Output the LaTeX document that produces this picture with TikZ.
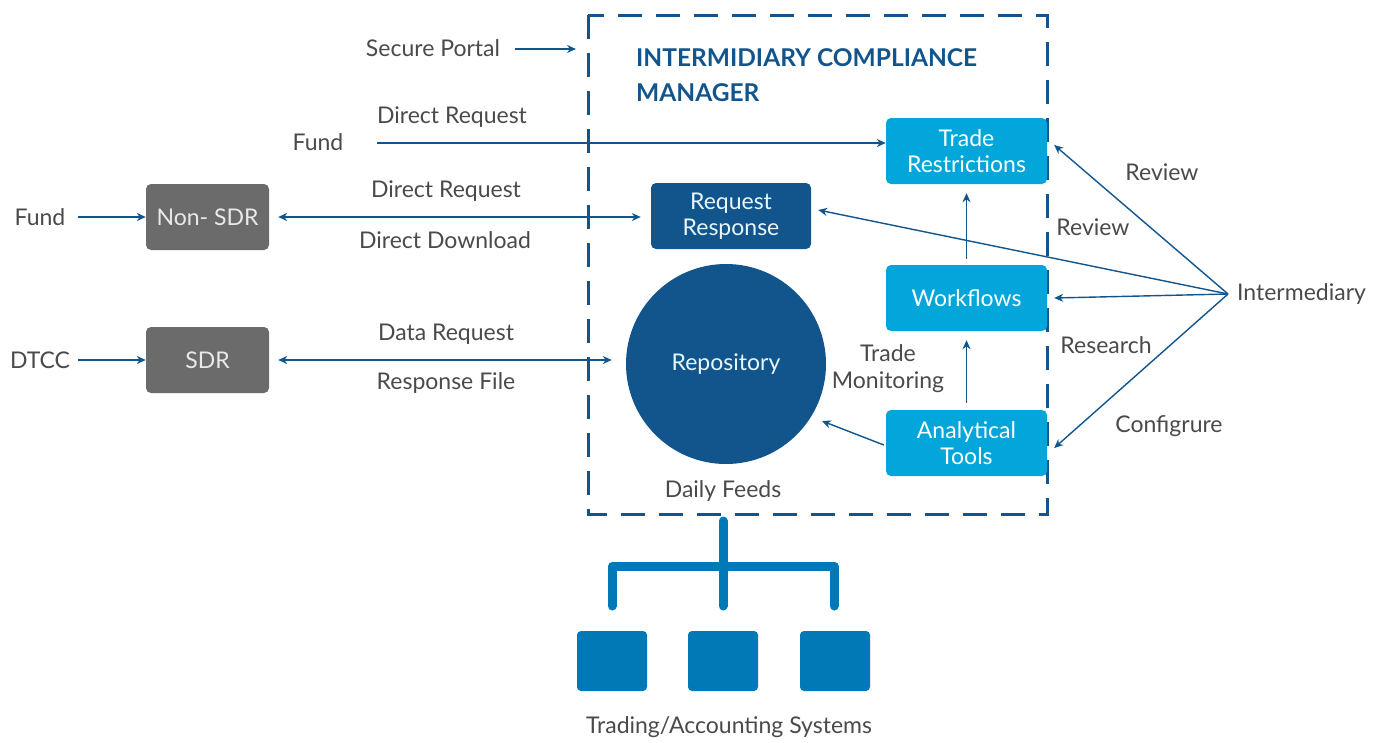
\documentclass[tikz,border=0pt]{standalone}
\usepackage{fontspec}
\setmainfont{Lato}
\usetikzlibrary{arrows.meta}
\definecolor{dblue}{HTML}{11558C}
\definecolor{lblue}{HTML}{02A6DB}
\definecolor{mblue}{HTML}{0079B6}
\definecolor{gbox}{HTML}{6B6B6B}
\definecolor{txt}{HTML}{4A4A4A}
\tikzset{
  lbl/.style={text=txt, font=\fontsize{23}{27}\selectfont, inner sep=0pt},
  boxlight/.style={fill=lblue, rounded corners=5pt, minimum width=161pt, minimum height=66pt, text=white, align=center, font=\fontsize{23}{26}\selectfont, inner sep=0pt},
  boxdark/.style={fill=dblue, rounded corners=5pt, minimum width=160pt, minimum height=66pt, text=white!90!lblue, align=center, font=\fontsize{23}{26}\selectfont, inner sep=0pt},
  boxgray/.style={fill=gbox, rounded corners=5pt, minimum width=123pt, minimum height=66pt, text=white!85!gbox, align=center, font=\fontsize{23}{26}\selectfont, inner sep=0pt},
  sq/.style={fill=mblue, rounded corners=4pt, minimum width=70pt, minimum height=60pt, inner sep=0pt},
  con/.style={draw=dblue, line width=1.4pt, -{Stealth[length=9pt,width=8pt]}},
  bicon/.style={draw=dblue, line width=1.4pt, {Stealth[length=9pt,width=8pt]}-{Stealth[length=9pt,width=8pt]}},
  tree/.style={draw=mblue, line width=9pt, line cap=round, line join=round}
}
\begin{document}
\begin{tikzpicture}[x=1pt,y=-1pt]
\useasboundingbox (0,0) rectangle (1387,742);
% dashed container
\draw[dblue, line width=3pt, dash pattern=on 24pt off 14pt] (588,15) rectangle (1047,514);
\node[anchor=west, text=dblue, font=\bfseries\fontsize{24.5}{35}\selectfont, align=left, inner sep=0pt] (title) at (636,75) {INTERMIDIARY COMPLIANCE\\MANAGER};
% boxes
\node[boxlight] (tr) at (966.5,151) {Trade\\Restrictions};
\node[boxdark] (rr) at (731,216) {Request\\Response};
\node[boxlight] (wf) at (966.5,298) {Workflows};
\node[boxlight] (at) at (966.5,443) {Analytical\\Tools};
\node[circle, fill=dblue, minimum size=200pt, inner sep=0pt, text=white!90!lblue, font=\fontsize{23}{26}\selectfont] (rep) at (726,364) {Repository};
\node[boxgray] (nsdr) at (207.5,217) {Non- SDR};
\node[boxgray] (sdr) at (207.5,360) {SDR};
% left labels
\node[lbl] (fund1) at (40,217) {Fund};
\node[lbl] (dtcc) at (40,360) {DTCC};
\node[lbl] (fund2) at (318,142) {Fund};
\node[lbl] (sp) at (433,48) {Secure Portal};
\coordinate (spa) at (515,49);
\coordinate (spb) at (576,49);
\coordinate (f2a) at (377,143);
\coordinate (inter) at (1228,294);
\node[lbl, anchor=west] (intl) at (1237,294) {Intermediary};
% connectors
\draw[con] (spa) -- (spb);
\draw[con] (78,217) -- (nsdr.west);
\draw[con] (78,360) -- (sdr.west);
\draw[con] (f2a) -- (tr.west |- f2a);
\draw[bicon] ([xshift=9pt]nsdr.east) -- ([xshift=-10pt]rr.west |- nsdr.east);
\draw[bicon] ([xshift=9pt]sdr.east) -- ([xshift=-14pt]rep.west |- sdr.east);
\draw[con] ([yshift=6pt]wf.north) -- ([yshift=-9pt]tr.south);
\draw[con] ([yshift=7pt]at.north) -- ([yshift=-9pt]wf.south);
\draw[con] ([xshift=-2pt,yshift=-2pt]at.west) -- (822,421);
\draw[con] (inter) -- ([xshift=7pt,yshift=6pt]tr.east);
\draw[con] (inter) -- ([xshift=7pt,yshift=6pt]rr.east);
\draw[con] (inter) -- ([xshift=7pt]wf.east);
\draw[con] (inter) -- ([xshift=7pt,yshift=-5pt]at.east);
% connector labels
\node[lbl] (l1) at (452,117) {Direct Request};
\node[lbl] (l2) at (446,191) {Direct Request};
\node[lbl] (l3) at (445,240) {Direct Download};
\node[lbl] (l4) at (446,334) {Data Request};
\node[lbl] (l5) at (446,383) {Response File};
\node[lbl] (l6) at (1162,172) {Review};
\node[lbl] (l7) at (1093,227) {Review};
\node[lbl] (l8) at (1106,345) {Research};
\node[lbl] (l9) at (1169,426) {Configrure};
\node[lbl, align=center, font=\fontsize{23}{27}\selectfont] (tm) at (888,369) {Trade\\Monitoring};
\node[lbl] (df) at (723,491) {Daily Feeds};
% tree
\draw[tree] (723,521) -- (723,606);
\draw[tree] (612,606) -- (612,566) -- (834,566) -- (834,606);
\node[sq] (s1) at (612,661) {};
\node[sq] (s2) at (723,661) {};
\node[sq] (s3) at (835,661) {};
\node[lbl] (tas) at (729,727) {Trading/Accounting Systems};
\end{tikzpicture}
\end{document}
